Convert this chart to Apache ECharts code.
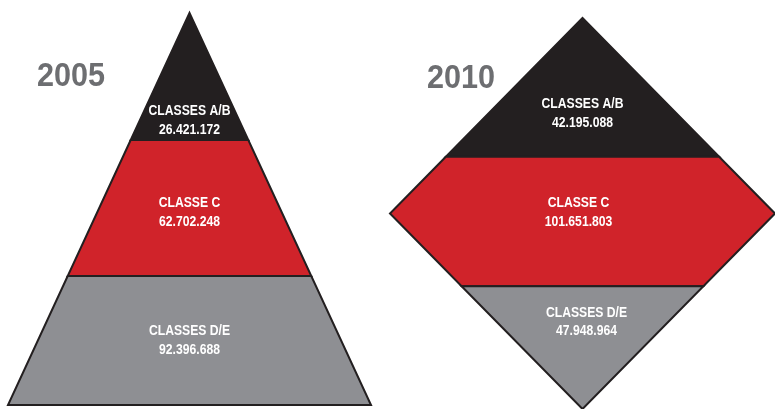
<!DOCTYPE html>
<html>
<head>
<meta charset="utf-8">
<script src="https://cdn.jsdelivr.net/npm/echarts@6/dist/echarts.min.js"></script>
<style>
  html, body { margin: 0; padding: 0; background: #fff; }
  #chart { width: 775px; height: 409px; }
</style>
</head>
<body>
<div id="chart"></div>
<script>
// classes, top to bottom
const classes = ['CLASSES A/B', 'CLASSE C', 'CLASSES D/E'];
const years = ['2005', '2010'];
const pop2005 = [26421172, 62702248, 92396688];
const pop2010 = [42195088, 101651803, 47948964];
// band edges as % of the shape's height (0 = top vertex, 100 = bottom)
const bands2005 = [0, 32.4, 67.1, 100];
const bands2010 = [0, 35.5, 68.6, 100];

const colors = ['#231f20', '#d0232a', '#8e8f93'];
const font = "'Liberation Sans', Arial, sans-serif";
// where the labels sit inside each band (% of height, and px nudge sideways)
const labelAt = {
  pyramid: [27.4, 50.9, 83.5],
  diamond: [24.4, 49.8, 77.7]
};
const labelDx = {
  pyramid: [0, 0, 0],
  diamond: [0, -4, 4]
};

function fmt(n) {
  return String(n).replace(/\B(?=(\d{3})+(?!\d))/g, '.');
}

// half width of the shape at height y (0..100)
function halfWidth(shape, y) {
  if (shape === 'pyramid') return y;
  return y <= 50 ? 2 * y : 2 * (100 - y);
}

function makeRender(shape) {
  return function (params, api) {
    const top = api.value(0);
    const bottom = api.value(1);
    const idx = api.value(3);
    let ys = [top, bottom];
    if (shape === 'diamond' && top < 50 && bottom > 50) ys = [top, 50, bottom];
    const pts = [];
    ys.forEach(function (y) { pts.push(api.coord([-halfWidth(shape, y), y])); });
    ys.slice().reverse().forEach(function (y) { pts.push(api.coord([halfWidth(shape, y), y])); });
    const c = api.coord([0, labelAt[shape][idx]]);
    return {
      type: 'group',
      children: [
        {
          type: 'polygon',
          shape: { points: pts },
          style: { fill: colors[idx], stroke: '#231f20', lineWidth: 2, lineJoin: 'miter' }
        },
        {
          type: 'text',
          x: c[0] + labelDx[shape][idx],
          y: c[1],
          scaleX: 0.84,
          style: {
            text: classes[idx] + '\n' + fmt(api.value(2)),
            fill: '#fff',
            font: 'bold 14.5px ' + font,
            lineHeight: 18.5,
            align: 'center',
            verticalAlign: 'middle'
          }
        }
      ]
    };
  };
}

function toData(bands, pops) {
  return pops.map(function (p, i) { return [bands[i], bands[i + 1], p, i]; });
}

function yearText(t, x, y) {
  return {
    type: 'text', x: x, y: y, scaleX: 0.9,
    style: {
      text: t, fill: '#6d6e71', font: 'bold 34px ' + font,
      align: 'center', verticalAlign: 'middle'
    }
  };
}

const chart = echarts.init(document.getElementById('chart'));
chart.setOption({
  animation: false,
  graphic: [yearText(years[0], 71, 77), yearText(years[1], 461, 79)],
  grid: [
    { left: 8, top: 13, width: 363, height: 392 },
    { left: 390, top: 18, width: 390, height: 392 }
  ],
  xAxis: [
    { gridIndex: 0, type: 'value', min: -100, max: 100, show: false },
    { gridIndex: 1, type: 'value', min: -100, max: 100, show: false }
  ],
  yAxis: [
    { gridIndex: 0, type: 'value', min: 0, max: 100, inverse: true, show: false },
    { gridIndex: 1, type: 'value', min: 0, max: 100, inverse: true, show: false }
  ],
  series: [
    {
      name: years[0], type: 'custom', xAxisIndex: 0, yAxisIndex: 0,
      renderItem: makeRender('pyramid'),
      data: toData(bands2005, pop2005)
    },
    {
      name: years[1], type: 'custom', xAxisIndex: 1, yAxisIndex: 1,
      renderItem: makeRender('diamond'),
      data: toData(bands2010, pop2010)
    }
  ]
});
</script>
</body>
</html>
